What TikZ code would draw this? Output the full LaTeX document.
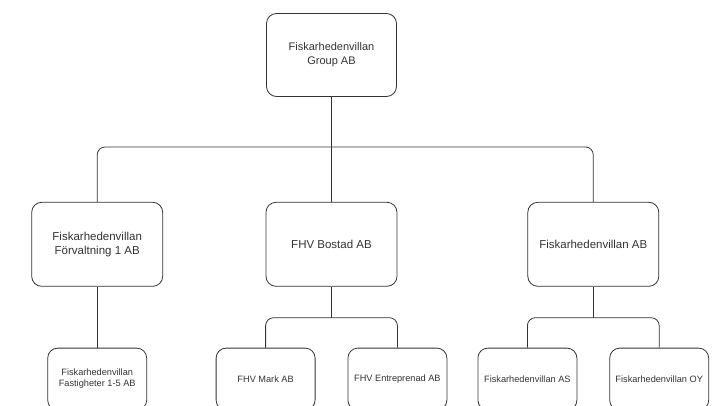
\documentclass[tikz,border=0pt]{standalone}
\usepackage{fontspec}
\setmainfont{Liberation Sans}
\usetikzlibrary{positioning, calc}

\begin{document}
\begin{tikzpicture}[
        x=1pt, y=1pt,
        node distance=61pt,
        box/.style={rectangle, rounded corners=10pt, draw=black!80, line width=0.8pt, fill=white, text=black!80, align=center, minimum width=131pt, minimum height=84pt, font=\fontsize{11.5pt}{14pt}\selectfont},
        topbox/.style={box, minimum width=130pt, minimum height=83pt, font=\fontsize{11pt}{14pt}\selectfont},
        leaf/.style={box, minimum width=99pt, minimum height=62pt, font=\fontsize{9.2pt}{11pt}\selectfont},
        link/.style={draw=black!80, line width=0.8pt, rounded corners=8pt}
        ]
        \useasboundingbox (0,0) rectangle (723,-405);

        \node[topbox] (group) at (331.5,-55) {Fiskarhedenvillan\\Group AB};

        \node[box, below=105pt of group] (bostad) {FHV Bostad AB};
        \node[box, left=102.5pt of bostad] (forvalt) {Fiskarhedenvillan\\F\"orvaltning 1 AB};
        \node[box, right=130pt of bostad] (fhvab) {Fiskarhedenvillan AB};

        \node[leaf, below=of forvalt] (fastigh) {Fiskarhedenvillan\\Fastigheter 1-5 AB};
        \node[leaf, below=of bostad.south west] (mark) {FHV Mark AB};
        \node[leaf, below=of bostad.south east] (entrep) {FHV Entreprenad AB};
        \node[leaf, below=of fhvab.south west] (fhvas) {Fiskarhedenvillan AS};
        \node[leaf, below=of fhvab.south east] (fhvoy) {Fiskarhedenvillan OY};

        % buses
        \coordinate (bustop) at ($(group.south)+(0,-50)$);
        \coordinate (busbostad) at ($(bostad.south)+(0,-31)$);
        \coordinate (busfhv) at ($(fhvab.south)+(0,-31)$);

        \draw[link] (group.south) -- (bostad.north);
        \draw[link] (forvalt.north) |- (bustop) -| (fhvab.north);
        \draw[link] (forvalt.south) -- (fastigh.north);
        \draw[link] (bostad.south) -- (busbostad);
        \draw[link] (mark.north) |- (busbostad) -| (entrep.north);
        \draw[link] (fhvab.south) -- (busfhv);
        \draw[link] (fhvas.north) |- (busfhv) -| (fhvoy.north);
    \end{tikzpicture}
\end{document}
